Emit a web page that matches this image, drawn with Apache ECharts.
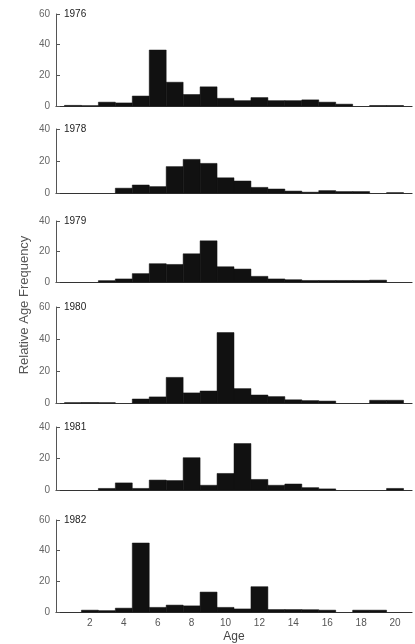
<!DOCTYPE html>
<html>
<head>
<meta charset="utf-8">
<script src="https://cdn.jsdelivr.net/npm/echarts@6/dist/echarts.min.js"></script>
<style>
  html, body { margin: 0; padding: 0; background: #fff; }
  #chart { width: 415px; height: 644px; }
</style>
</head>
<body>
<div id="chart"></div>
<script>
// ages 1..20, relative age frequency per year
var ages = [1, 2, 3, 4, 5, 6, 7, 8, 9, 10, 11, 12, 13, 14, 15, 16, 17, 18, 19, 20];
var years = ['1976', '1978', '1979', '1980', '1981', '1982'];
var freq1976 = [0.4, 0.2, 2.5, 2, 6.5, 36.5, 15.5, 7.5, 12.5, 5, 3.5, 5.5, 3.5, 3.5, 4, 2.5, 1.2, 0, 0.3, 0.3];
var freq1978 = [0, 0, 0, 3, 5, 4, 16.5, 21, 18.5, 9.5, 7.5, 3.5, 2.5, 1.2, 0.5, 1.5, 0.9, 0.9, 0, 0.2];
var freq1979 = [0, 0, 0.9, 2, 5.5, 12, 11.5, 18.5, 27, 10, 8.5, 3.7, 2, 1.5, 1, 1, 1, 1, 1.2, 0];
var freq1980 = [0.2, 0.3, 0.2, 0, 2.5, 3.8, 16, 6.3, 7.5, 44, 9, 5, 4, 2, 1.5, 1.2, 0, 0, 1.7, 1.7];
var freq1981 = [0, 0, 1, 4.5, 1, 6.3, 6, 20.5, 3, 10.5, 29.5, 6.7, 3, 3.8, 1.5, 0.7, 0, 0, 0, 1];
var freq1982 = [0, 1.2, 0.9, 2.5, 45, 3, 4.5, 4, 13, 3, 2, 16.5, 1.6, 1.6, 1.5, 1.2, 0, 1.2, 1.2, 0];
var allFreq = [freq1976, freq1978, freq1979, freq1980, freq1981, freq1982];
var yMax = [60, 40, 40, 60, 40, 60];

// panel layout (top / height in px)
var panelTop = [14, 129, 221, 307, 427, 520];
var panelHeight = [92, 64, 61, 96, 63, 92];

var chart = echarts.init(document.getElementById('chart'));
var font = 'Liberation Sans, Arial, sans-serif';

function renderBar(params, api) {
    var x = api.value(0);
    var y = api.value(1);
    if (!y) return null;
    var p0 = api.coord([x - 0.5, y]);
    var p1 = api.coord([x + 0.5, 0]);
    return {
        type: 'rect',
        shape: { x: p0[0], y: p0[1], width: p1[0] - p0[0], height: p1[1] - p0[1] },
        style: { fill: '#111', stroke: '#111', lineWidth: 0.5 }
    };
}

var grids = [], xAxes = [], yAxes = [], series = [], titles = [];
for (var i = 0; i < years.length; i++) {
    var last = i === years.length - 1;
    grids.push({ left: 56, width: 356, top: panelTop[i], height: panelHeight[i] });
    xAxes.push({
        type: 'value', gridIndex: i, min: 0, max: 21, interval: 2,
        axisLine: { show: true, onZero: false, lineStyle: { color: '#333', width: 1.2 } },
        axisTick: { show: false },
        splitLine: { show: false },
        axisLabel: {
            show: last, color: '#555', fontSize: 10, fontFamily: font, margin: 6,
            formatter: function (v) { return (v > 0 && v % 2 === 0) ? String(v) : ''; }
        }
    });
    yAxes.push({
        type: 'value', gridIndex: i, min: 0, max: yMax[i], interval: 20,
        axisLine: { show: true, lineStyle: { color: '#555', width: 1 } },
        axisTick: { show: true, inside: true, length: 4, lineStyle: { color: '#555' } },
        splitLine: { show: false },
        axisLabel: { color: '#666', fontSize: 10, fontFamily: font, margin: 6 }
    });
    var d = [];
    for (var j = 0; j < ages.length; j++) d.push([ages[j], allFreq[i][j]]);
    series.push({
        type: 'custom', xAxisIndex: i, yAxisIndex: i,
        renderItem: renderBar, encode: { x: 0, y: 1 }, data: d, silent: true
    });
    titles.push({
        text: years[i], left: 64, top: panelTop[i] - 5, padding: 0,
        textStyle: { fontSize: 10, fontWeight: 'normal', color: '#222', fontFamily: font }
    });
}

chart.setOption({
    backgroundColor: '#fff',
    animation: false,
    title: titles,
    grid: grids,
    xAxis: xAxes,
    yAxis: yAxes,
    series: series,
    graphic: [
        {
            type: 'text', x: 24, y: 305, rotation: Math.PI / 2,
            style: { text: 'Relative Age Frequency', fill: '#555', fontSize: 13, fontFamily: font,
                     align: 'center', verticalAlign: 'middle' }
        },
        {
            type: 'text', x: 234, y: 637,
            style: { text: 'Age', fill: '#444', fontSize: 12, fontFamily: font,
                     align: 'center', verticalAlign: 'middle' }
        }
    ]
});
</script>
</body>
</html>
